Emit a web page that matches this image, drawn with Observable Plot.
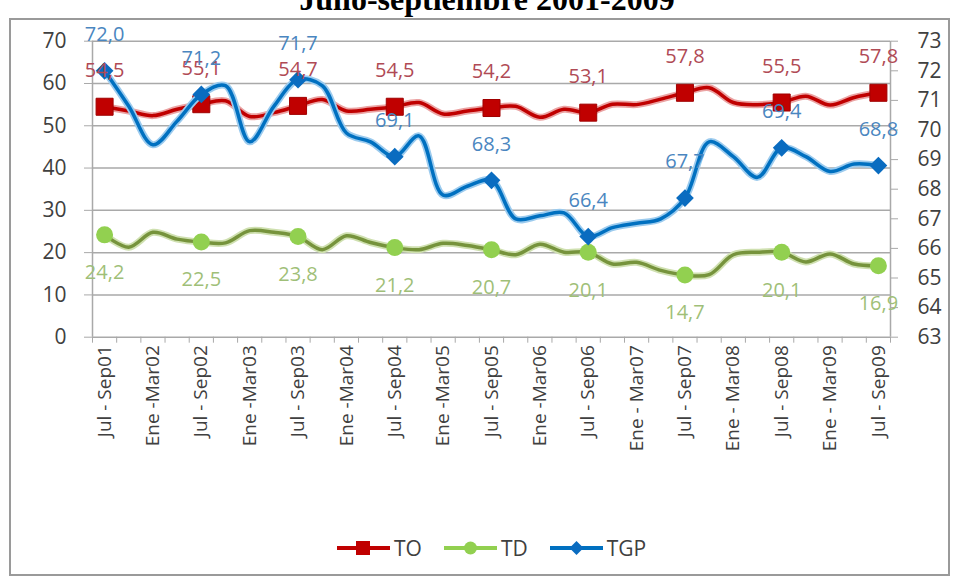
<!DOCTYPE html>
<html>
<head>
<meta charset="utf-8">
<script src="https://cdn.jsdelivr.net/npm/d3@7"></script>
<script src="https://cdn.jsdelivr.net/npm/@observablehq/plot@0.6"></script>
<style>
  body { margin:0; width:958px; height:579px; overflow:hidden; position:relative; background:#fff; font-family:"Open Sans", sans-serif; }
  #title { position:absolute; top:-17px; left:8px; width:958px; text-align:center; font:bold 32px "Liberation Serif", serif; line-height:32px; color:#000; }
  #frame { position:absolute; left:9px; top:18px; width:941px; height:558px; border:2px solid #9a9a9a; box-sizing:border-box; background:#fff; }
  #chart { position:absolute; left:0; top:20px; }
  #legend { position:absolute; left:336px; top:534px; height:28px; display:flex; align-items:center; gap:21px; font-size:21px; color:#404040; line-height:28px; }
  #legend .item { display:flex; align-items:center; }
  #legend svg { margin-right:3px; }
</style>
</head>
<body>
<div id="frame"></div>
<div id="title">Julio-septiembre 2001-2009</div>
<div id="chart"></div>
<div id="legend"></div>
<script>
const categories = [
  "Jul - Sep01","Oct - Dic01","Ene -Mar02","Abr - Jun02",
  "Jul - Sep02","Oct - Dic02","Ene -Mar03","Abr - Jun03",
  "Jul - Sep03","Oct - Dic03","Ene -Mar04","Abr - Jun04",
  "Jul - Sep04","Oct - Dic04","Ene -Mar05","Abr - Jun05",
  "Jul - Sep05","Oct - Dic05","Ene -Mar06","Abr - Jun06",
  "Jul - Sep06","Oct - Dic06","Ene - Mar07","Abr - Jun07",
  "Jul - Sep07","Oct - Dic07","Ene - Mar08","Abr - Jun08",
  "Jul - Sep08","Oct - Dic08","Ene - Mar09","Abr - Jun09",
  "Jul - Sep09"
];
const TO  = [54.5,53.5,52.4,53.9,55.1,55.9,52.2,53.1,54.7,56.2,53.5,53.9,54.5,55.5,52.8,53.5,54.2,54.6,52.0,53.9,53.1,55.1,55.0,56.3,57.8,59.0,55.5,55.0,55.5,57.0,54.9,56.7,57.8];
const TD  = [24.2,21.3,24.8,23.2,22.5,22.3,25.2,24.8,23.8,20.7,24.0,22.4,21.2,20.7,22.2,21.7,20.7,19.5,22.0,20.1,20.1,17.3,17.7,15.8,14.7,14.8,19.5,20.1,20.1,17.8,19.7,17.3,16.9];
const TGP = [72.0,70.8,69.5,70.3,71.2,71.5,69.6,70.8,71.7,71.5,69.9,69.6,69.1,69.8,67.8,68.1,68.3,67.0,67.1,67.2,66.4,66.7,66.85,67.0,67.7,69.6,69.1,68.4,69.4,69.1,68.6,68.85,68.8];
const leftTicks = [0,10,20,30,40,50,60,70];
const rightTicks = [63,64,65,66,67,68,69,70,71,72,73];
const seriesNames = ["TO","TD","TGP"];

const colors = {
  TO:  {line:"#c00000", glow:"#eba3a3", marker:"#c00000", label:"#b04a55"},
  TD:  {line:"#76933c", glow:"#cfe0b0", marker:"#92d050", label:"#9fbf78"},
  TGP: {line:"#0070c0", glow:"#9ccbee", marker:"#0a6cc0", label:"#4a86c0"}
};

// right axis (63..73) mapped onto left scale (0..70)
const r2l = v => (v - 63) * 7;
const l2r = v => v / 7 + 63;
const fmt = v => v.toFixed(1).replace(".", ",");

const rows = categories.map((c, i) => ({i, c, TO: TO[i], TD: TD[i], TGP: TGP[i]}));
const markers = rows.filter(d => d.i % 4 === 0);
const grid = "#a9a9a9";

const chart = Plot.plot({
  width: 958,
  height: 500,
  marginLeft: 92,
  marginRight: 68,
  marginTop: 20.7,
  marginBottom: 183.3,
  style: {fontFamily: "Open Sans, sans-serif", background: "transparent", overflow: "visible"},
  x: {type: "linear", domain: [-0.5, categories.length - 0.5], axis: null, label: null},
  y: {domain: [0, 70], axis: null, label: null},
  marks: [
    Plot.ruleY(leftTicks, {stroke: grid, strokeWidth: 1.5}),
    Plot.ruleX([-0.5, categories.length - 0.5], {stroke: grid, strokeWidth: 1.5}),
    Plot.axisY(leftTicks, {anchor: "left", label: null, tickSize: 8, tickPadding: 18, fontSize: 21, stroke: grid, fill: "#404040"}),
    Plot.axisY(rightTicks.map(r2l), {anchor: "right", label: null, tickSize: 7, tickPadding: 20, fontSize: 21, stroke: grid, fill: "#404040", tickFormat: v => String(Math.round(l2r(v)))}),
    Plot.axisX(d3.range(-0.5, categories.length, 1), {anchor: "bottom", label: null, tickSize: 6, stroke: grid, tickFormat: () => ""}),
    Plot.axisX(d3.range(0, categories.length, 2), {anchor: "bottom", label: null, tickSize: 0, tickPadding: 8, tickRotate: -90, fontSize: 19, fill: "#404040", tickFormat: i => categories[i]}),
    // TO
    Plot.line(rows, {x: "i", y: "TO", stroke: colors.TO.glow, strokeWidth: 7, curve: "catmull-rom"}),
    Plot.line(rows, {x: "i", y: "TO", stroke: colors.TO.line, strokeWidth: 3.5, curve: "catmull-rom"}),
    Plot.dot(markers, {x: "i", y: "TO", symbol: "square", r: 9.6, fill: colors.TO.marker, stroke: "#a00000", strokeWidth: 1}),
    // TD
    Plot.line(rows, {x: "i", y: "TD", stroke: colors.TD.glow, strokeWidth: 7, curve: "catmull-rom"}),
    Plot.line(rows, {x: "i", y: "TD", stroke: colors.TD.line, strokeWidth: 3.5, curve: "catmull-rom"}),
    Plot.dot(markers, {x: "i", y: "TD", symbol: "circle", r: 8.5, fill: colors.TD.marker}),
    // TGP (right axis)
    Plot.line(rows, {x: "i", y: d => r2l(d.TGP), stroke: colors.TGP.glow, strokeWidth: 7, curve: "catmull-rom"}),
    Plot.line(rows, {x: "i", y: d => r2l(d.TGP), stroke: colors.TGP.line, strokeWidth: 3.5, curve: "catmull-rom"}),
    Plot.dot(markers, {x: "i", y: d => r2l(d.TGP), symbol: "diamond2", r: 8, fill: colors.TGP.marker}),
    // labels
    Plot.text(markers, {x: "i", y: "TO", text: d => fmt(d.TO), dy: -36, fontSize: 20, fill: colors.TO.label}),
    Plot.text(markers, {x: "i", y: "TD", text: d => fmt(d.TD), dy: 38, fontSize: 20, fill: colors.TD.label}),
    Plot.text(markers, {x: "i", y: d => r2l(d.TGP), text: d => fmt(d.TGP), dy: -36, fontSize: 20, fill: colors.TGP.label})
  ]
});
document.getElementById("chart").appendChild(chart);

// legend
const legend = d3.select("#legend");
seriesNames.forEach(name => {
  const item = legend.append("div").attr("class", "item");
  const svg = item.append("svg").attr("width", 55).attr("height", 20);
  svg.append("line").attr("x1", 1).attr("x2", 54).attr("y1", 10).attr("y2", 10)
    .attr("stroke", name === "TD" ? colors.TD.marker : colors[name].line).attr("stroke-width", 4);
  if (name === "TO") svg.append("rect").attr("x", 20).attr("y", 3).attr("width", 14).attr("height", 14).attr("fill", colors.TO.marker);
  if (name === "TD") svg.append("circle").attr("cx", 27.5).attr("cy", 10).attr("r", 6.5).attr("fill", colors.TD.marker);
  if (name === "TGP") svg.append("path").attr("d", "M27.5,3L34.5,10L27.5,17L20.5,10Z").attr("fill", colors.TGP.marker);
  item.append("span").text(name);
});
</script>
</body>
</html>
